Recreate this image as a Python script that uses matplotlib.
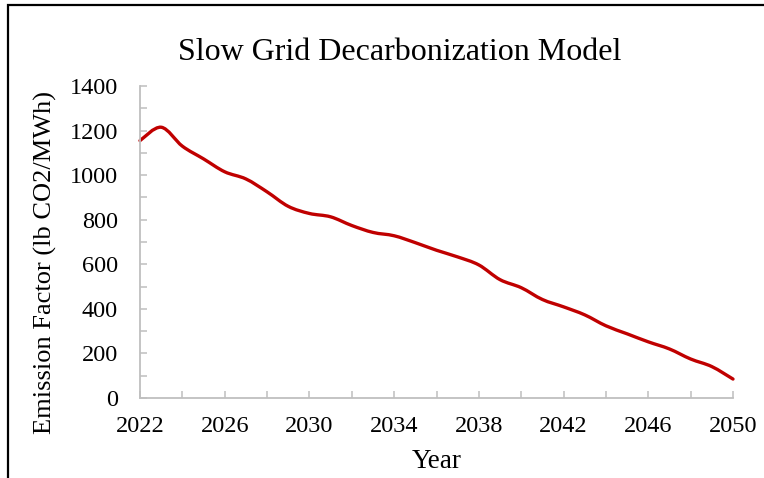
import matplotlib
matplotlib.use("Agg")
import matplotlib.pyplot as plt
import numpy as np
from matplotlib.path import Path
from matplotlib.patches import PathPatch, Rectangle

years = list(range(2022, 2051))
emission = [1155, 1215, 1130, 1073, 1015, 983, 925, 860, 828, 813, 774, 743,
            728, 697, 663, 633, 597, 531, 495, 442, 409, 373, 324, 288, 252,
            220, 175, 141, 85]
xticks = [2022, 2026, 2030, 2034, 2038, 2042, 2046, 2050]
yticks = [0, 200, 400, 600, 800, 1000, 1200, 1400]

plt.rcParams['font.family'] = ['Liberation Serif', 'DejaVu Serif']

W, H = 764, 478
fig = plt.figure(figsize=(W/100, H/100), dpi=100)
ax = fig.add_axes([140/W, 1-398/H, 593/W, 312/H])

# smoothed line like Excel (cubic bezier through the points)
x = np.array(years, dtype=float)
y = np.array(emission, dtype=float)
verts = [(x[0], y[0])]
codes = [Path.MOVETO]
n = len(x)
for i in range(n - 1):
    p0 = (x[max(i-1, 0)], y[max(i-1, 0)])
    p1 = (x[i], y[i])
    p2 = (x[i+1], y[i+1])
    p3 = (x[min(i+2, n-1)], y[min(i+2, n-1)])
    c1 = (p1[0] + (p2[0]-p0[0])/6, p1[1] + (p2[1]-p0[1])/6)
    c2 = (p2[0] - (p3[0]-p1[0])/6, p2[1] - (p3[1]-p1[1])/6)
    verts += [c1, c2, p2]
    codes += [Path.CURVE4] * 3
ax.add_patch(PathPatch(Path(verts, codes), facecolor='none',
                       edgecolor='#C00000', lw=2.4, capstyle='round',
                       joinstyle='round', clip_on=False))

ax.set_xlim(2022, 2050)
ax.set_ylim(0, 1400)
ax.set_xticks(xticks)
ax.set_xticks(range(2022, 2051, 2), minor=True)
ax.set_yticks(yticks)
ax.set_yticks(range(0, 1401, 100), minor=True)

for s in ['top', 'right']:
    ax.spines[s].set_visible(False)
for s in ['left', 'bottom']:
    ax.spines[s].set_color('#BFBFBF')
    ax.spines[s].set_linewidth(1.3)

ax.tick_params(axis='both', which='both', direction='in', color='#BFBFBF',
               width=1.1, length=5, labelsize=17.5)
ax.tick_params(axis='y', which='major', pad=16)
ax.tick_params(axis='x', which='major', pad=13)

fig.text(400/W, 1-52/H, 'Slow Grid Decarbonization Model', fontsize=23,
         ha='center', va='center')
fig.text(437/W, 1-462/H, 'Year', fontsize=19.5, ha='center', va='center')
fig.text(45/W, 1-262/H, 'Emission Factor (lb CO2/MWh)', fontsize=19,
         rotation=90, ha='center', va='center')

# outer frame of the chart (cut off on right and bottom)
fig.patches.append(Rectangle((8/W, -0.1), 1.2, 1.1 - 5/H,
                             transform=fig.transFigure, fill=False,
                             edgecolor='black', lw=1.6))

fig.savefig('out.png', dpi=100)
